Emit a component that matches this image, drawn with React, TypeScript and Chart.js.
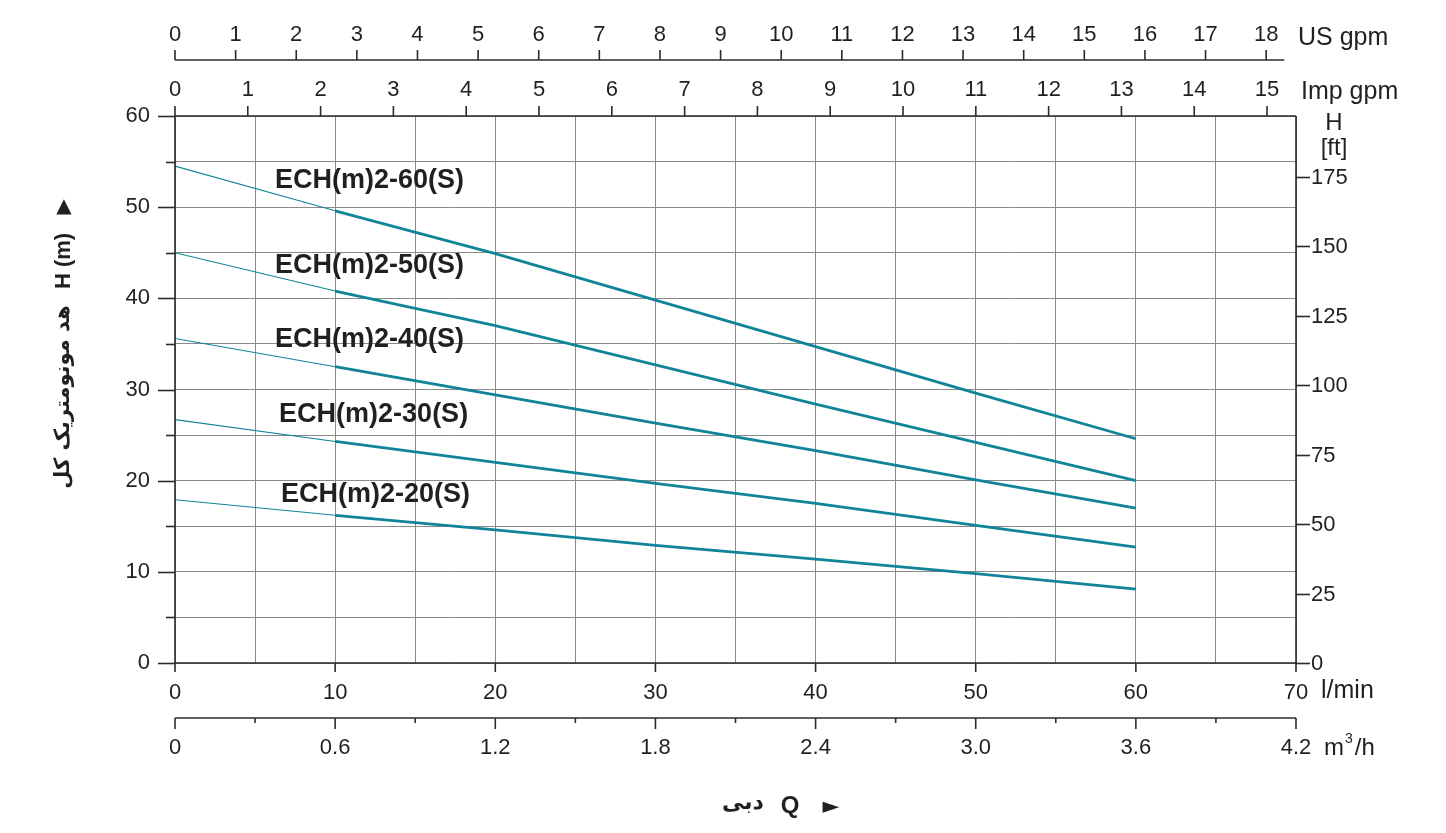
import React, { useEffect, useRef } from 'react';
import { Chart, registerables } from 'chart.js';

Chart.register(...registerables);

// ---- data (flow in l/min, head in m) ----
const flowLmin = [0, 10, 20, 30, 40, 50, 60];
const head60 = [54.5, 49.6, 44.9, 39.8, 34.7, 29.6, 24.6];
const head50 = [45.0, 40.8, 37.0, 32.7, 28.4, 24.2, 20.0];
const head40 = [35.6, 32.5, 29.4, 26.3, 23.3, 20.1, 17.0];
const head30 = [26.7, 24.3, 22.0, 19.7, 17.5, 15.1, 12.7];
const head20 = [17.9, 16.2, 14.6, 12.9, 11.4, 9.8, 8.1];
const seriesNames = ['ECH(m)2-60(S)', 'ECH(m)2-50(S)', 'ECH(m)2-40(S)', 'ECH(m)2-30(S)', 'ECH(m)2-20(S)'];
const seriesValues = [head60, head50, head40, head30, head20];

// ---- tick labels ----
const hTicks = [0, 10, 20, 30, 40, 50, 60];
const lminTicks = [0, 10, 20, 30, 40, 50, 60, 70];
const m3hTicks = ['0', '0.6', '1.2', '1.8', '2.4', '3.0', '3.6', '4.2'];
const usGpmTicks = [0, 1, 2, 3, 4, 5, 6, 7, 8, 9, 10, 11, 12, 13, 14, 15, 16, 17, 18];
const impGpmTicks = [0, 1, 2, 3, 4, 5, 6, 7, 8, 9, 10, 11, 12, 13, 14, 15];
const ftTicks = [0, 25, 50, 75, 100, 125, 150, 175];

// label anchors in data units [flow l/min, head m]
const labelAnchors = [
  [6.25, 52.9],
  [6.25, 43.65],
  [6.25, 35.5],
  [6.5, 27.3],
  [6.62, 18.5],
];

const LINE = '#11849a';
const TEXT = '#231f20';
const AXIS = '#2b2b2b';
const GRID = '#8a8a8a';
const US_GAL = 3.78541;
const IMP_GAL = 4.54609;
const FT = 0.3048;

const font = (size: number, bold = false) =>
  `${bold ? 'bold ' : ''}${size}px "Liberation Sans", Arial, Helvetica, sans-serif`;

const decorPlugin = {
  id: 'decor',
  afterDraw(chart: any) {
    const ctx: CanvasRenderingContext2D = chart.ctx;
    const xs = chart.scales.x;
    const ys = chart.scales.y;
    const { left: L, right: R, top: T, bottom: B } = chart.chartArea;
    ctx.save();
    ctx.strokeStyle = AXIS;
    ctx.fillStyle = TEXT;
    ctx.lineWidth = 1.6;

    const line = (x1: number, y1: number, x2: number, y2: number) => {
      ctx.beginPath();
      ctx.moveTo(x1, y1);
      ctx.lineTo(x2, y2);
      ctx.stroke();
    };

    // frame
    line(L, T, R, T);
    line(L, B, R, B);
    line(L, T, L, B);
    line(R, T, R, B);

    // left axis ticks (every 5 m), labels every 10 m
    for (let v = 0; v <= 60; v += 5) {
      const py = Math.round(ys.getPixelForValue(v)) + 0.5;
      const len = v % 10 === 0 ? 17 : 9;
      line(L - len, py, L, py);
    }
    ctx.font = font(22);
    ctx.textAlign = 'right';
    ctx.textBaseline = 'middle';
    hTicks.forEach((v) => ctx.fillText(String(v), 150, ys.getPixelForValue(v)));

    // bottom l/min axis
    ctx.textAlign = 'center';
    lminTicks.forEach((v) => {
      const px = xs.getPixelForValue(v);
      line(px, B, px, B + 9);
      ctx.fillText(String(v), px, B + 30);
    });
    ctx.textAlign = 'left';
    ctx.font = font(25);
    ctx.fillText('l/min', R + 25, B + 28);

    // m3/h axis
    const yM = B + 55;
    line(L, yM, R, yM);
    for (let i = 0; i <= 14; i++) {
      const m3 = i * 0.3;
      const px = xs.getPixelForValue((m3 * 1000) / 60);
      line(px, yM, px, yM + (i % 2 === 0 ? 11 : 5));
    }
    ctx.font = font(22);
    ctx.textAlign = 'center';
    m3hTicks.forEach((lab) => {
      const px = xs.getPixelForValue((parseFloat(lab) * 1000) / 60);
      ctx.fillText(lab, px, yM + 30);
    });
    ctx.textAlign = 'left';
    ctx.font = font(24);
    ctx.fillText('m', R + 28, yM + 30);
    const mW = ctx.measureText('m').width;
    ctx.font = font(14);
    ctx.fillText('3', R + 28 + mW + 1, yM + 21);
    const tW = ctx.measureText('3').width;
    ctx.font = font(24);
    ctx.fillText('/h', R + 28 + mW + tW + 3, yM + 30);

    // US gpm axis
    const yUS = 60;
    const usEnd = xs.getPixelForValue(18.3 * US_GAL);
    line(L, yUS, usEnd, yUS);
    ctx.font = font(22);
    ctx.textAlign = 'center';
    usGpmTicks.forEach((g) => {
      const px = xs.getPixelForValue(g * US_GAL);
      line(px, yUS, px, yUS - 10);
      ctx.fillText(String(g), px, yUS - 25);
    });
    ctx.textAlign = 'left';
    ctx.font = font(25);
    ctx.fillText('US gpm', R + 2, 38);

    // Imp gpm axis (on plot top)
    ctx.font = font(22);
    ctx.textAlign = 'center';
    impGpmTicks.forEach((g) => {
      const px = xs.getPixelForValue(g * IMP_GAL);
      line(px, T, px, T - 10);
      ctx.fillText(String(g), px, T - 26);
    });
    ctx.textAlign = 'left';
    ctx.font = font(25);
    ctx.fillText('Imp gpm', R + 5, 92);

    // right ft axis
    ctx.font = font(22);
    ctx.textAlign = 'left';
    ftTicks.forEach((f) => {
      const py = Math.round(ys.getPixelForValue(f * FT)) + 0.5;
      line(R, py, R + 14, py);
      ctx.fillText(String(f), R + 15, py);
    });
    ctx.textAlign = 'center';
    ctx.font = font(24);
    ctx.fillText('H', R + 38, 123);
    ctx.fillText('[ft]', R + 38, 148);

    // curve labels
    ctx.font = font(27, true);
    ctx.textAlign = 'left';
    seriesNames.forEach((name, i) => {
      const [q, h] = labelAnchors[i];
      ctx.fillText(name, xs.getPixelForValue(q), ys.getPixelForValue(h));
    });

    // left axis title (rotated)
    ctx.save();
    ctx.translate(64, 0);
    ctx.rotate(-Math.PI / 2);
    ctx.textAlign = 'center';
    ctx.textBaseline = 'middle';
    ctx.font = font(22, true);
    ctx.fillText('H (m)', -261, 0);
    ctx.font = 'bold 21px "DejaVu Sans", sans-serif';
    ctx.fillText('هد مونومتریک کل', -397, 0);
    ctx.restore();
    ctx.textAlign = 'center';
    ctx.textBaseline = 'middle';
    ctx.font = '20px "DejaVu Sans", sans-serif';
    ctx.fillText('▲', 64, 207);

    // bottom title
    ctx.font = 'bold 22px "DejaVu Sans", sans-serif';
    ctx.fillText('دبی', 743, 803);
    ctx.font = font(24, true);
    ctx.fillText('Q', 790, 806);
    ctx.font = '22px "DejaVu Sans", sans-serif';
    ctx.fillText('►', 831, 807);

    ctx.restore();
  },
};

export default function App() {
  const canvasRef = useRef<HTMLCanvasElement | null>(null);

  useEffect(() => {
    document.body.style.margin = '0';
    const canvas = canvasRef.current;
    if (!canvas) return;
    const chart = new Chart(canvas, {
      type: 'line',
      data: {
        datasets: seriesValues.map((vals, i) => ({
          label: seriesNames[i],
          data: flowLmin.map((q, k) => ({ x: q, y: vals[k] })),
          borderColor: LINE,
          borderWidth: 2.8,
          pointRadius: 0,
          fill: false,
          tension: 0,
          segment: {
            borderWidth: (c: any) => (c.p0.parsed.x < 10 ? 1.1 : 2.8),
          },
        })),
      },
      options: {
        responsive: false,
        animation: false,
        events: [],
        layout: { padding: { left: 175, top: 116, right: 150, bottom: 170 } },
        plugins: { legend: { display: false }, tooltip: { enabled: false } },
        scales: {
          x: {
            type: 'linear',
            min: 0,
            max: 70,
            ticks: { display: false, stepSize: 5 },
            grid: { color: GRID, lineWidth: 1, drawTicks: false },
            border: { display: false },
          },
          y: {
            type: 'linear',
            min: 0,
            max: 60,
            ticks: { display: false, stepSize: 5 },
            grid: { color: GRID, lineWidth: 1, drawTicks: false },
            border: { display: false },
          },
        },
      },
      plugins: [decorPlugin],
    } as any);
    return () => chart.destroy();
  }, []);

  return (
    <div style={{ width: 1446, height: 833, background: '#fff' }}>
      <canvas ref={canvasRef} width={1446} height={833} style={{ display: 'block' }} />
    </div>
  );
}
